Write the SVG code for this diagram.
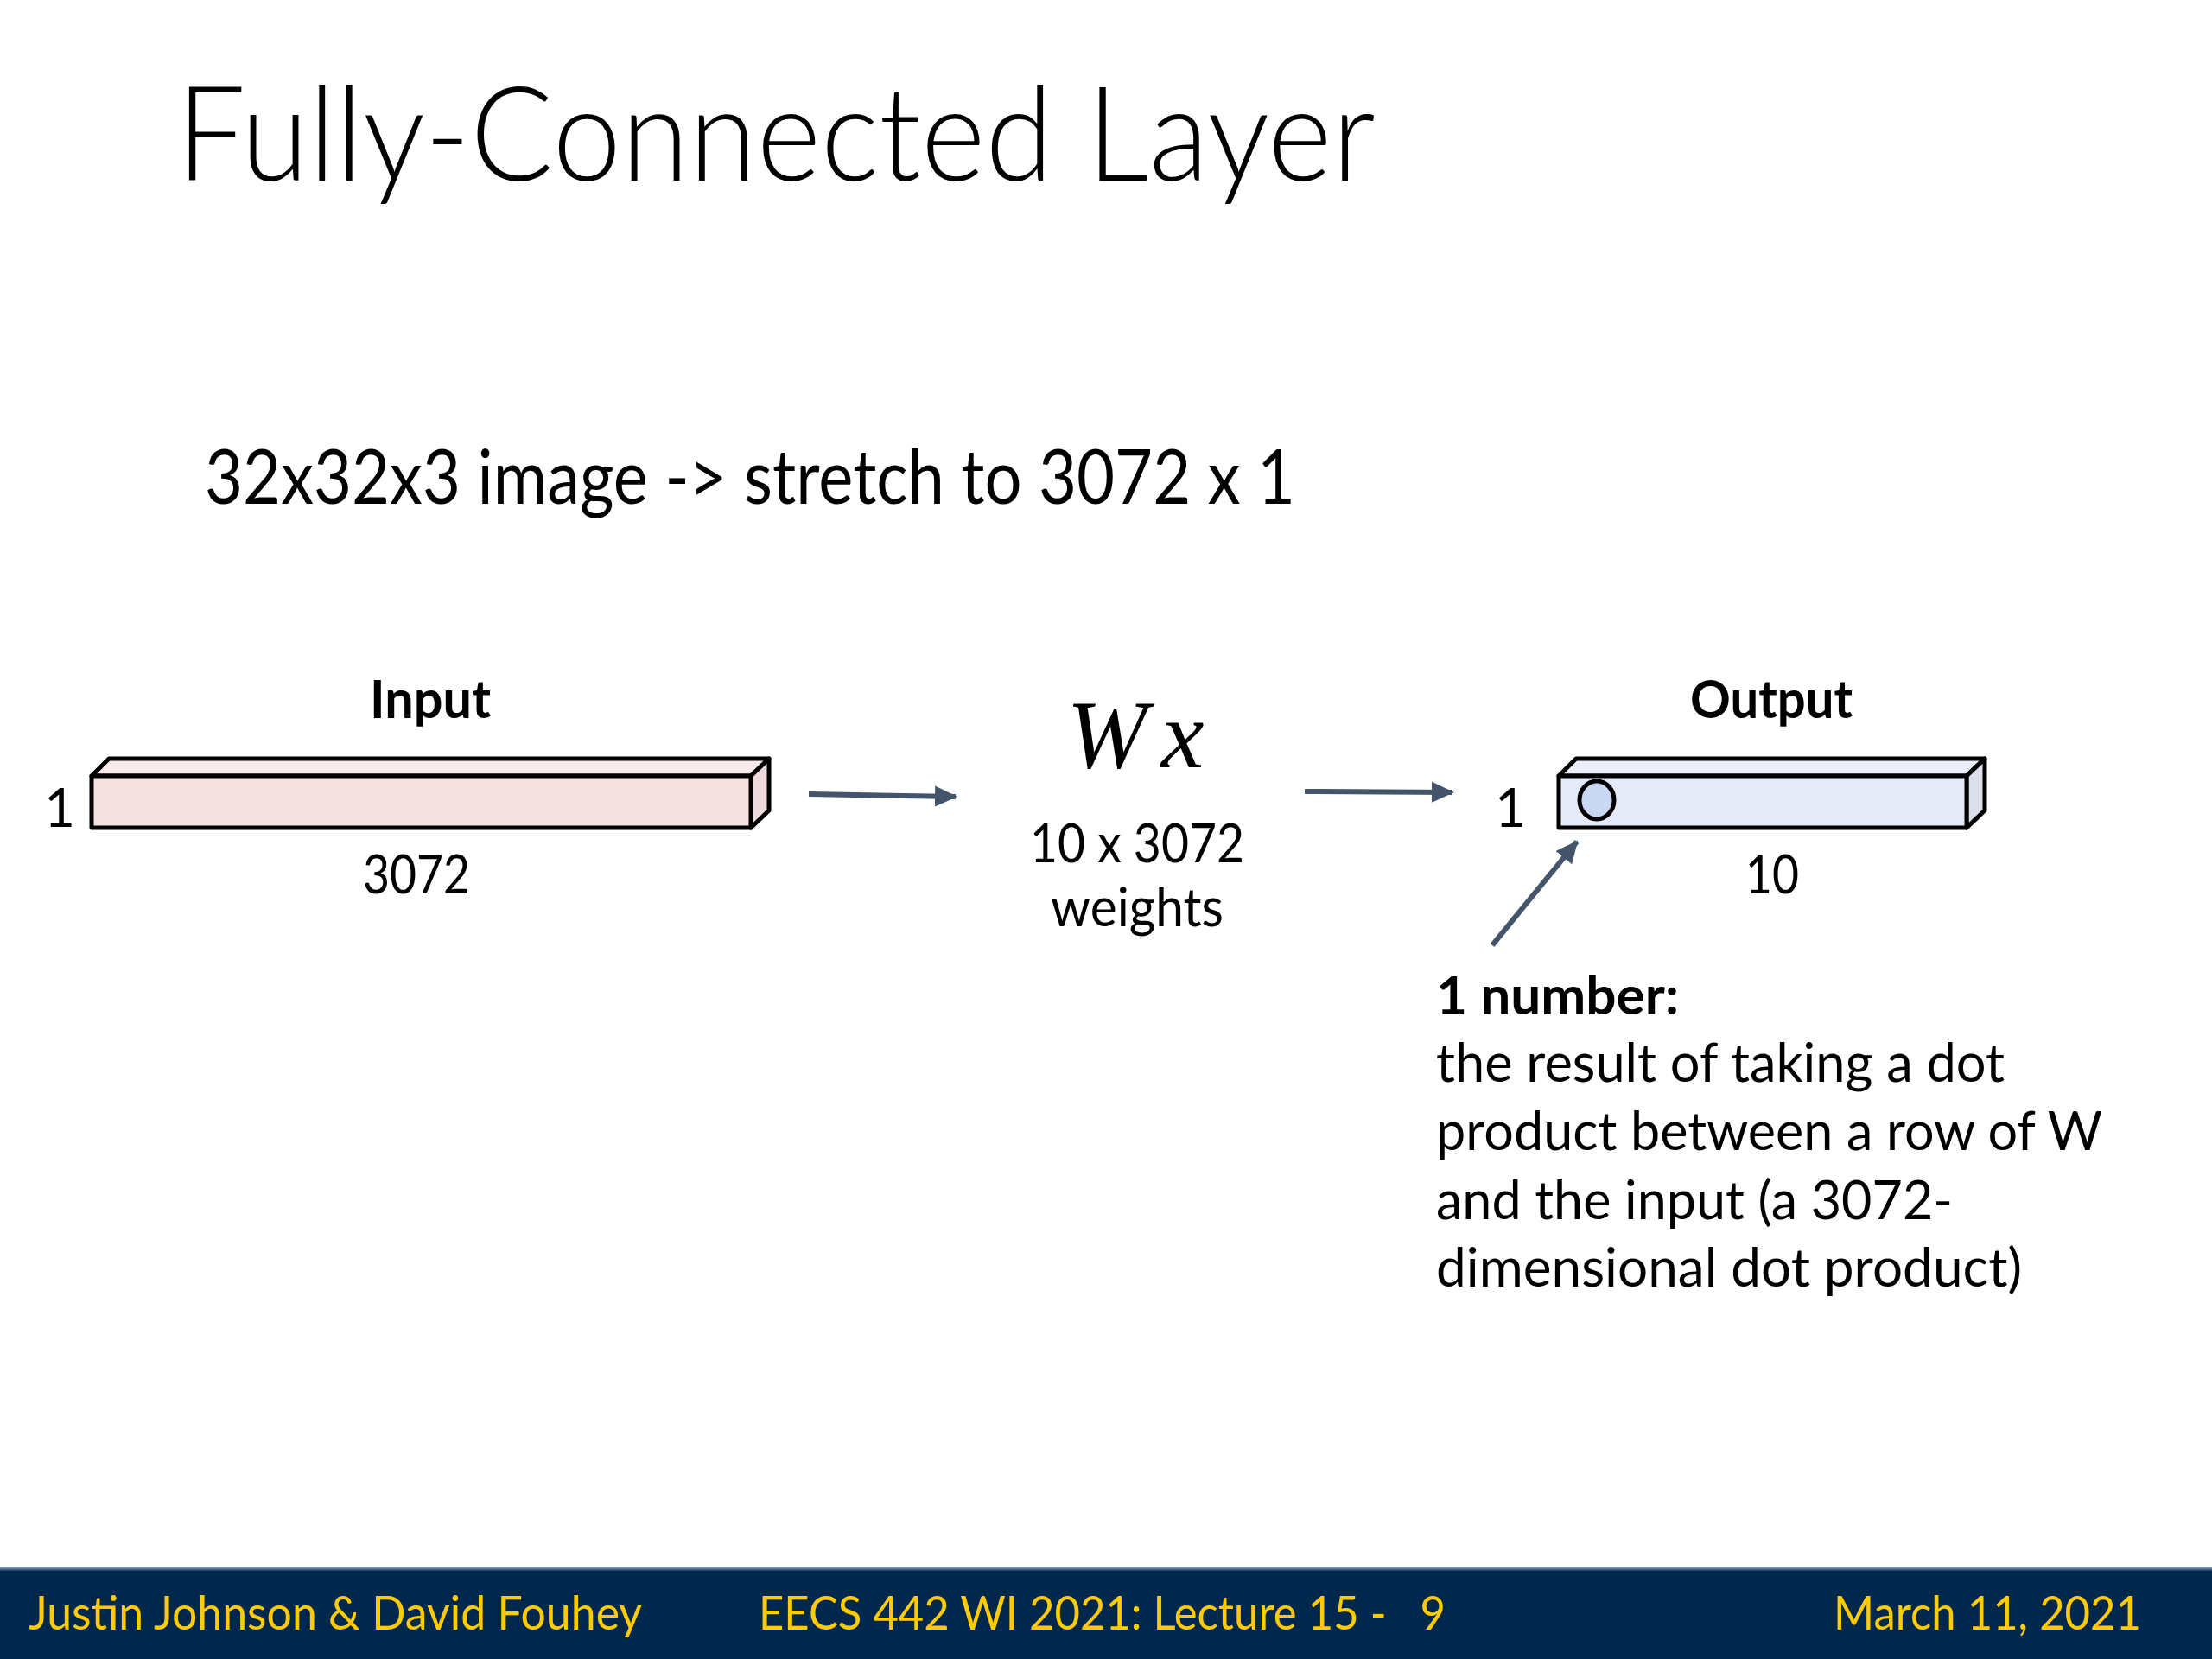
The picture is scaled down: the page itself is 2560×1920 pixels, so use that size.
<svg xmlns="http://www.w3.org/2000/svg" width="2560" height="1920" viewBox="0 0 2560 1920">
<defs>
<style>
text{font-family:Lato,"Open Sans","Liberation Sans",sans-serif;fill:#000}
.title{font-size:152px;font-weight:300}
.sub{font-size:88px}
.lbl{font-size:62px}
.bold{font-weight:bold}
.math{font-family:"Liberation Serif","DejaVu Serif",serif;font-style:italic;font-size:112px}
.foot{font-size:54px;fill:#FFCB05}
.edge{stroke:#000;stroke-width:5;stroke-linejoin:round}
.conn{stroke:#44546A;stroke-width:6;fill:none}
</style>
<marker id="ah" markerUnits="userSpaceOnUse" markerWidth="32" markerHeight="32" viewBox="0 0 32 32" refX="24" refY="16" orient="auto">
<path d="M0,4 L26,16 L0,28 Z" fill="#44546A"/>
</marker>
<linearGradient id="band" x1="0" y1="0" x2="0" y2="1">
<stop offset="0" stop-color="#9fb3cc"/>
<stop offset="1" stop-color="#00274C"/>
</linearGradient>
</defs>
<rect width="2560" height="1920" fill="#fff"/>

<text class="title" x="204" y="209" textLength="1388" lengthAdjust="spacingAndGlyphs">Fully-Connected Layer</text>
<text class="sub" x="237" y="583" textLength="1262" lengthAdjust="spacingAndGlyphs">32x32x3 image -&gt; stretch to 3072 x 1</text>

<g id="input">
<text class="lbl bold" x="498" y="831" text-anchor="middle" textLength="140" lengthAdjust="spacingAndGlyphs">Input</text>
<path class="edge" d="M106,898 L126,878 L890,878 L869,898 Z" fill="#F9EBEB"/>
<path class="edge" d="M869,898 L890,878 L890,938 L869,958 Z" fill="#EED9DC"/>
<rect class="edge" x="106" y="898" width="763" height="60" fill="#F6E2E2"/>
<text class="lbl" x="69" y="957" text-anchor="middle">1</text>
<text class="lbl" x="482" y="1034" text-anchor="middle" textLength="124" lengthAdjust="spacingAndGlyphs">3072</text>
</g>

<g id="weights">
<text class="math" x="1314" y="888" text-anchor="middle">W<tspan dx="16">x</tspan></text>
<text class="lbl" x="1316" y="998" text-anchor="middle" textLength="248" lengthAdjust="spacingAndGlyphs">10 x 3072</text>
<text class="lbl" x="1316" y="1072" text-anchor="middle" textLength="200" lengthAdjust="spacingAndGlyphs">weights</text>
</g>

<g id="output">
<text class="lbl bold" x="2050" y="831" text-anchor="middle" textLength="188" lengthAdjust="spacingAndGlyphs">Output</text>
<path class="edge" d="M1804,898 L1824,878 L2297,878 L2276,898 Z" fill="#EAEFF9"/>
<path class="edge" d="M2276,898 L2297,878 L2297,938 L2276,958 Z" fill="#DADFE9"/>
<rect class="edge" x="1804" y="898" width="472" height="60" fill="#E4EAF8"/>
<ellipse class="edge" cx="1848" cy="926" rx="20" ry="22" fill="#C9D9F3" stroke-width="4"/>
<text class="lbl" x="1748" y="957" text-anchor="middle">1</text>
<text class="lbl" x="2051" y="1034" text-anchor="middle" textLength="62" lengthAdjust="spacingAndGlyphs">10</text>
</g>

<g id="note">
<text class="lbl bold" x="1662" y="1174" textLength="281" lengthAdjust="spacingAndGlyphs">1 number:</text>
<text class="lbl" x="1662" y="1252" textLength="658" lengthAdjust="spacingAndGlyphs">the result of taking a dot</text>
<text class="lbl" x="1662" y="1331" textLength="771" lengthAdjust="spacingAndGlyphs">product between a row of W</text>
<text class="lbl" x="1662" y="1411" textLength="598" lengthAdjust="spacingAndGlyphs">and the input (a 3072-</text>
<text class="lbl" x="1662" y="1489" textLength="678" lengthAdjust="spacingAndGlyphs">dimensional dot product)</text>
</g>

<g id="connectors">
<line class="conn" x1="936" y1="919" x2="1106" y2="922" marker-end="url(#ah)"/>
<line class="conn" x1="1510" y1="916" x2="1681" y2="917" marker-end="url(#ah)"/>
<line class="conn" x1="1727" y1="1094" x2="1825" y2="974" marker-end="url(#ah)"/>
</g>

<g id="footer">
<rect x="0" y="1813" width="2560" height="6" fill="url(#band)"/>
<rect x="0" y="1818" width="2560" height="102" fill="#00274C"/>
<text class="foot" x="33" y="1886" textLength="710" lengthAdjust="spacingAndGlyphs">Justin Johnson &amp; David Fouhey</text>
<text class="foot" x="878" y="1886" textLength="795" lengthAdjust="spacingAndGlyphs" xml:space="preserve">EECS 442 WI 2021: Lecture 15 -   9</text>
<text class="foot" x="2478" y="1886" text-anchor="end" textLength="356" lengthAdjust="spacingAndGlyphs">March 11, 2021</text>
</g>
</svg>
